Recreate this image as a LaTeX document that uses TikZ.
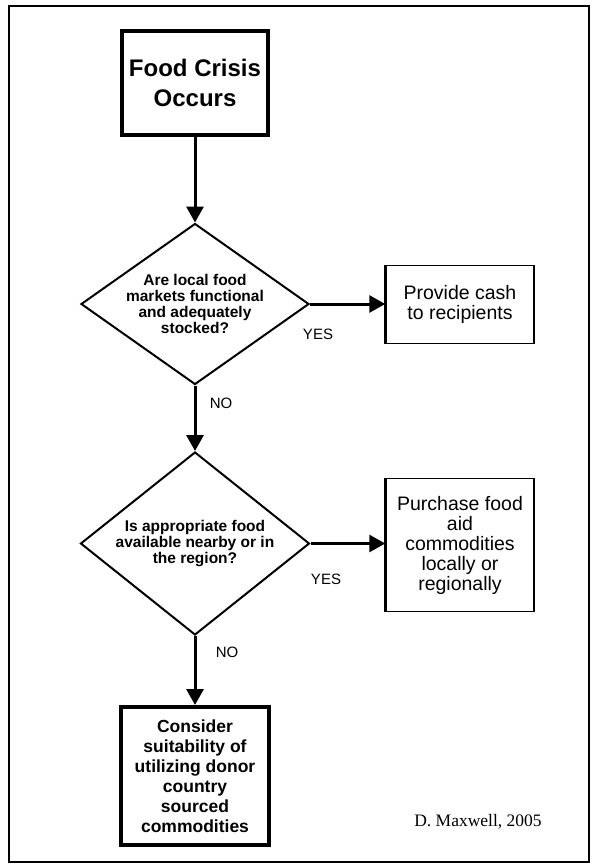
\documentclass[tikz,border=0pt]{standalone}
\usepackage{fontspec}
\setmainfont{Liberation Sans}
\newfontfamily\creditfont{Liberation Serif}
\usetikzlibrary{shapes.geometric,arrows.meta}

\begin{document}
\begin{tikzpicture}[x=1pt,y=-1pt,
  startbox/.style={draw,line width=4pt,inner sep=0pt,align=center,
    minimum width=146pt,minimum height=104pt,
    font=\fontsize{24}{30}\selectfont\bfseries},
  actbox/.style={draw,line width=1.5pt,inner sep=0pt,align=center,
    minimum width=148pt,font=\fontsize{19.5}{20}\selectfont},
  endbox/.style={draw,line width=4pt,inner sep=0pt,align=center,
    minimum width=148pt,minimum height=138pt,
    font=\fontsize{17.5}{20}\selectfont\bfseries},
  question/.style={draw,diamond,line width=2pt,inner sep=0pt},
  qtext/.style={align=center,font=\fontsize{15.5}{16}\selectfont\bfseries},
  answer/.style={font=\fontsize{15}{16}\selectfont},
  flow/.style={line width=3pt,-{Triangle[length=16pt,width=17pt]}}]
  \useasboundingbox (0,0) rectangle (598,868);
  \draw[line width=1.5pt] (9,6) rectangle (589,862);

  \node[startbox] (crisis) at (195,83) {Food Crisis\\Occurs};
  \node[question,minimum width=228pt,minimum height=161pt,
    label={[qtext]center:{Are local food\\markets functional\\and adequately\\stocked?}}]
    (markets) at (195,304) {};
  \node[question,minimum width=229pt,minimum height=183pt,
    label={[qtext]center:{Is appropriate food\\available nearby or in\\the region?}}]
    (nearby) at (195,543.5) {};
  \node[actbox,minimum height=78pt] (cash) at (460,304.5) {Provide cash\\to recipients};
  \node[actbox,minimum height=133pt] (purchase) at (460,545)
    {Purchase food\\aid\\commodities\\locally or\\regionally};
  \node[endbox] (donor) at (195,776)
    {Consider\\suitability of\\utilizing donor\\country\\sourced\\commodities};
  \draw[line width=3pt] (cash.north west) -- (cash.south west);
  \draw[line width=3pt] (purchase.north west) -- (purchase.south west);

  \draw[flow] (crisis) -- (markets);
  \draw[flow] (markets.east) -- (markets.east -| cash.west);
  \draw[flow] (markets) -- (nearby);
  \draw[flow] (nearby.east) -- (nearby.east -| purchase.west);
  \draw[flow] (nearby) -- (donor);

  \node[answer] (yes1) at (318,334) {YES};
  \node[answer] (no1) at (221,403) {NO};
  \node[answer] (yes2) at (326,579) {YES};
  \node[answer] (no2) at (227,652) {NO};
  \node[font=\creditfont\fontsize{17.5}{20}\selectfont] (credit) at (478,822) {D. Maxwell, 2005};
\end{tikzpicture}
\end{document}
